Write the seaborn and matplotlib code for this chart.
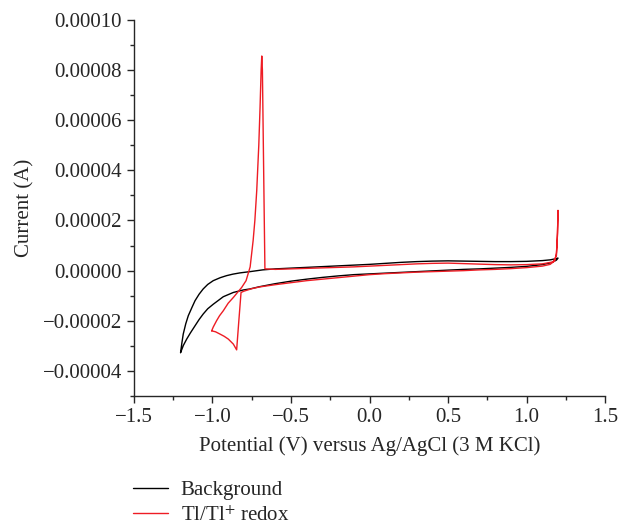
import numpy as np
import pandas as pd
import seaborn as sns
import matplotlib.pyplot as plt
from matplotlib.ticker import MultipleLocator, FuncFormatter

# background CV loop (potential in V, current in 1e-5 A)
bg_potential = [-1.203, -1.195, -1.186, -1.17, -1.154, -1.13, -1.111, -1.085, -1.059,
                -1.03, -0.995, -0.95, -0.91, -0.87, -0.825, -0.761, -0.68, -0.60, -0.50,
                -0.40, -0.30, -0.20, -0.10, 0.00, 0.10, 0.20, 0.30, 0.40, 0.50, 0.60,
                0.70, 0.80, 0.90, 1.00, 1.10, 1.15, 1.19, 1.20,
                1.19, 1.16, 1.10, 1.00, 0.90, 0.80, 0.70, 0.60, 0.50, 0.40, 0.30, 0.20,
                0.10, 0.00, -0.10, -0.20, -0.30, -0.40, -0.50, -0.60, -0.70, -0.761,
                -0.803, -0.867, -0.931, -0.995, -1.03, -1.059, -1.085, -1.111, -1.14,
                -1.164, -1.185, -1.203]
bg_current = [-3.27, -2.90, -2.53, -2.12, -1.80, -1.46, -1.20, -0.94, -0.73,
              -0.55, -0.40, -0.28, -0.20, -0.14, -0.09, -0.04, 0.03, 0.07, 0.10,
              0.13, 0.16, 0.19, 0.22, 0.25, 0.29, 0.33, 0.36, 0.38, 0.39, 0.38,
              0.37, 0.36, 0.36, 0.37, 0.40, 0.43, 0.48, 0.50,
              0.42, 0.32, 0.24, 0.17, 0.13, 0.10, 0.07, 0.05, 0.02, -0.01, -0.04, -0.07,
              -0.10, -0.13, -0.16, -0.21, -0.27, -0.34, -0.42, -0.52, -0.64, -0.73,
              -0.77, -0.87, -1.04, -1.34, -1.52, -1.73, -1.95, -2.20, -2.48,
              -2.73, -2.98, -3.27]

# Tl/Tl+ redox CV loop
tl_potential = [-1.005, -0.98, -0.952, -0.925, -0.899, -0.867, -0.846, -0.832, -0.818,
                -0.80, -0.75, -0.70, -0.60, -0.50, -0.40, -0.30, -0.20, -0.10, 0.00,
                0.10, 0.20, 0.30, 0.40, 0.50, 0.60, 0.70, 0.80, 0.90, 1.00, 1.10, 1.15,
                1.18, 1.19, 1.195, 1.198, 1.20, 1.197, 1.19, 1.17,
                1.10, 1.00, 0.90, 0.80, 0.70, 0.60, 0.50, 0.40, 0.30, 0.20, 0.10, 0.00,
                -0.10, -0.20, -0.30, -0.40, -0.50, -0.60, -0.666,
                -0.670, -0.674, -0.678, -0.682, -0.686, -0.690, -0.697, -0.705, -0.718,
                -0.730, -0.741, -0.760, -0.786, -0.814, -0.867, -0.90, -0.931, -0.955,
                -0.974, -0.995, -1.005]
tl_current = [-2.40, -2.44, -2.53, -2.62, -2.73, -2.93, -3.16, -2.00, -0.87,
              -0.82, -0.72, -0.65, -0.56, -0.48, -0.40, -0.34, -0.28, -0.22, -0.16,
              -0.12, -0.09, -0.06, -0.04, -0.02, 0.00, 0.03, 0.05, 0.08, 0.12, 0.18, 0.25,
              0.40, 0.70, 1.20, 1.80, 2.40, 1.50, 0.60, 0.35,
              0.27, 0.24, 0.23, 0.24, 0.26, 0.28, 0.30, 0.29, 0.27, 0.24, 0.21, 0.18,
              0.15, 0.13, 0.11, 0.09, 0.07, 0.05, 0.07,
              2.0, 4.0, 6.0, 8.0, 8.56, 8.0, 6.5, 5.0, 3.2,
              2.0, 1.2, 0.15, -0.40, -0.67, -1.07, -1.30, -1.60, -1.80,
              -2.00, -2.25, -2.40]

series_labels = ["Background", "Tl/Tl$^{+}$ redox"]
series_colors = ["black", "#ee1c24"]

df = pd.concat([
    pd.DataFrame({"Potential": bg_potential, "Current": np.array(bg_current) * 1e-5,
                  "series": series_labels[0]}),
    pd.DataFrame({"Potential": tl_potential, "Current": np.array(tl_current) * 1e-5,
                  "series": series_labels[1]}),
], ignore_index=True)

sns.set_style("ticks")
plt.rcParams["font.family"] = ["Liberation Serif", "DejaVu Serif"]
plt.rcParams["mathtext.fontset"] = "stix"
fs = 15

fig = plt.figure(figsize=(6.2, 5.29), dpi=100)
ax = fig.add_axes([0.216, 0.2514, 0.76, 0.711])

for label, color in zip(series_labels, series_colors):
    sub = df[df["series"] == label]
    sns.lineplot(data=sub, x="Potential", y="Current", sort=False, estimator=None,
                 color=color, linewidth=1.0, label=label, ax=ax)

ax.set_xlim(-1.5, 1.5)
ax.set_ylim(-0.00005, 0.00010)
ax.xaxis.set_major_locator(MultipleLocator(0.5))
ax.xaxis.set_minor_locator(MultipleLocator(0.25))
ax.yaxis.set_major_locator(MultipleLocator(0.00002))
ax.yaxis.set_minor_locator(MultipleLocator(0.00001))
ax.yaxis.set_major_formatter(FuncFormatter(
    lambda v, p: ("%.5f" % (0.0 if abs(v) < 1e-12 else v)).replace("-", "\u2212")))
ax.tick_params(which="major", length=5, width=1.0, labelsize=fs, direction="out")
ax.tick_params(which="minor", length=3, width=1.0, direction="out")
for s in ["left", "bottom"]:
    ax.spines[s].set_linewidth(1.0)
sns.despine(ax=ax)

ax.set_xlabel("Potential (V) versus Ag/AgCl (3 M KCl)", fontsize=fs, labelpad=7)
ax.set_ylabel("Current (A)", fontsize=fs, labelpad=6)

handles, labels = ax.get_legend_handles_labels()
ax.get_legend().remove()
fig.legend(handles, labels, loc="upper left", bbox_to_anchor=(0.214, 0.092), frameon=False,
           fontsize=fs, labelspacing=0.3, handlelength=1.7, handletextpad=0.6,
           borderpad=0, borderaxespad=0)

fig.savefig("out.png", dpi=100)
